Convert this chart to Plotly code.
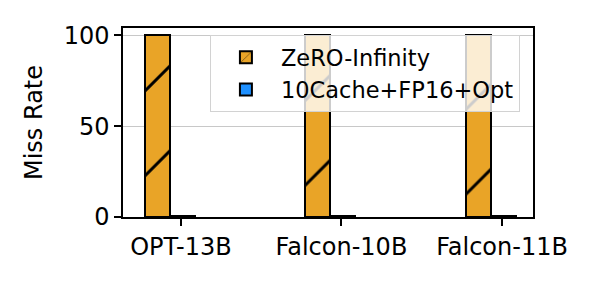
import plotly.graph_objects as go

categories = ["OPT-13B", "Falcon-10B", "Falcon-11B"]
series_names = ["ZeRO-Infinity", "10Cache+FP16+Opt"]
zero_inf = [100, 100, 100]
tencache = [0.8, 0.8, 0.8]
y_ticks = [0, 50, 100]

x_pos = list(range(len(categories)))
W = 0.155
FONT = dict(family="DejaVu Sans", size=24, color="black")

fig = go.Figure()
fig.add_trace(go.Bar(
    x=[p - 0.148 for p in x_pos], y=zero_inf, width=W, name=series_names[0],
    marker=dict(color="#E9A427", line=dict(color="black", width=2),
                pattern=dict(shape="/", size=60, solidity=0.05, fgcolor="black",
                             bgcolor="#E9A427", fillmode="replace")),
))
fig.add_trace(go.Bar(
    x=[p + 0.007 for p in x_pos], y=tencache, width=W, name=series_names[1],
    marker=dict(color="#1E90FF", line=dict(color="black", width=2)),
))

fig.update_layout(
    width=586, height=280,
    margin=dict(l=115, r=61, t=20, b=71),
    paper_bgcolor="white", plot_bgcolor="white",
    font=FONT, barmode="overlay", bargap=0,
    showlegend=True,
    legend=dict(x=0.212, y=0.962, xanchor="left", yanchor="top",
                bgcolor="rgba(255,255,255,0.8)", bordercolor="rgb(210,210,210)",
                borderwidth=1, font=dict(family="DejaVu Sans", size=22.5, color="black"),
                itemwidth=60, itemsizing="constant"),
)
fig.update_xaxes(
    range=[-0.361, 2.193], tickmode="array", tickvals=x_pos, ticktext=categories,
    ticks="outside", ticklen=7, tickwidth=1.5, tickcolor="black",
    showline=True, linecolor="black", linewidth=1.5, mirror=True,
    showgrid=False, zeroline=False, tickfont=FONT,
)
fig.update_yaxes(
    range=[0, 104], tickmode="array", tickvals=y_ticks, ticks="outside",
    ticklen=7, tickwidth=1.5, tickcolor="black",
    showline=True, linecolor="black", linewidth=1.5, mirror=True,
    showgrid=True, gridcolor="rgb(200,200,200)", gridwidth=1, zeroline=False,
    title=dict(text="Miss Rate", font=FONT, standoff=14), tickfont=FONT,
)
fig.write_html("out.html")
